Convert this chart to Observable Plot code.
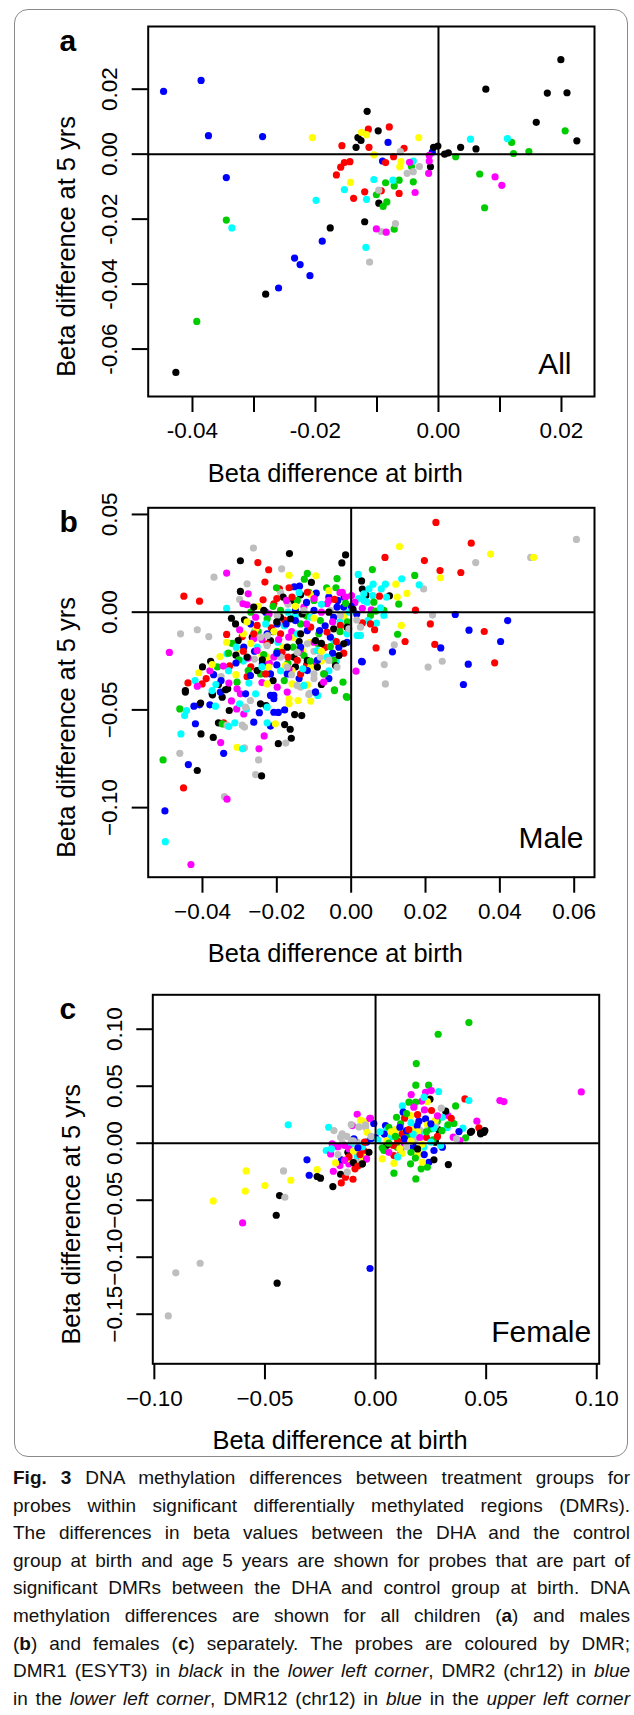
<!DOCTYPE html>
<html>
<head>
<meta charset="utf-8">
<script src="https://cdn.jsdelivr.net/npm/d3@7"></script>
<script src="https://cdn.jsdelivr.net/npm/@observablehq/plot@0.6"></script>
<style>
  html, body { margin: 0; padding: 0; background: #fff; }
  body { width: 634px; height: 1715px; position: relative; overflow: hidden; font-family: "Liberation Sans", Arial, Helvetica, sans-serif; }
  .panel { position: absolute; left: 0; }
  #border { position: absolute; left: 14px; top: 9px; width: 614px; height: 1448px; border: 1.5px solid #8a8a8a; border-radius: 14px; box-sizing: border-box; }
  #caption { position: absolute; left: 13px; top: 1464px; width: 617px; font-size: 19px; line-height: 27.6px; color: #111; }
  #caption div { text-align: justify; text-align-last: justify; white-space: nowrap; }
</style>
</head>
<body>
<div id="border"></div>
<div id="pa" class="panel"></div>
<div id="pb" class="panel"></div>
<div id="pc" class="panel"></div>
<div id="caption">
  <div><b>Fig. 3</b> DNA methylation differences between treatment groups for</div>
  <div>probes within significant differentially methylated regions (DMRs).</div>
  <div>The differences in beta values between the DHA and the control</div>
  <div>group at birth and age 5 years are shown for probes that are part of</div>
  <div>significant DMRs between the DHA and control group at birth. DNA</div>
  <div>methylation differences are shown for all children (<b>a</b>) and males</div>
  <div>(<b>b</b>) and females (<b>c</b>) separately. The probes are coloured by DMR;</div>
  <div>DMR1 (ESYT3) in <i>black</i> in the <i>lower left corner</i>, DMR2 (chr12) in <i>blue</i></div>
  <div>in the <i>lower left corner</i>, DMR12 (chr12) in <i>blue</i> in the <i>upper left corner</i></div>
</div>
<script>
// ---------------- DATA ----------------
const dmrPalette = {black:"#000000", red:"#FF0000", green:"#00CD00", blue:"#0000FF", cyan:"#00FFFF", magenta:"#FF00FF", yellow:"#FFFF00", gray:"#BEBEBE"};

const xTitle = "Beta difference at birth";
const yTitle = "Beta difference at 5 yrs";

// Panel a (All)
const aXDomain = [-0.0472, 0.02537];
const aYDomain = [-0.0746, 0.0393];
const aXTicks = [-0.04, -0.03, -0.02, -0.01, 0, 0.01, 0.02];
const aXLabels = ["-0.04", "", "-0.02", "", "0.00", "", "0.02"];
const aYTicks = [-0.06, -0.04, -0.02, 0, 0.02];
const aYLabels = ["-0.06", "-0.04", "-0.02", "0.00", "0.02"];
const aPoints = [
["blue",-0.0447,0.0193],["blue",-0.0386,0.0227],["blue",-0.0374,0.0057],["blue",-0.0286,0.0054],["blue",-0.0345,-0.0072],["blue",-0.0189,-0.0268],["blue",-0.0234,-0.0320],["blue",-0.0225,-0.0340],["blue",-0.0209,-0.0374],["blue",-0.0260,-0.0412],["blue",-0.0082,0.0036],["blue",-0.0091,-0.0021],["blue",-0.0010,0.0006],
["black",-0.0427,-0.0672],["black",-0.0281,-0.0431],["black",-0.0176,-0.0227],["black",-0.0120,-0.0208],["black",-0.0097,-0.0151],["black",-0.0116,0.0132],["black",-0.0098,0.0072],["black",-0.0131,0.0051],["black",-0.0126,0.0042],["black",-0.0134,0.0021],["black",-0.0008,0.0021],["black",-0.0001,0.0025],["black",-0.0013,-0.0039],["black",0.0010,0.0000],["black",0.0016,0.0004],["black",0.0036,0.0021],["black",0.0061,0.0016],["black",0.0077,0.0200],["black",0.0199,0.0291],["black",0.0177,0.0188],["black",0.0209,0.0189],["black",0.0159,0.0098],["black",0.0225,0.0041],
["green",-0.0393,-0.0515],["green",-0.0345,-0.0203],["green",-0.0090,-0.0161],["green",-0.0084,-0.0147],["green",-0.0101,-0.0125],["green",-0.0086,-0.0088],["green",-0.0072,-0.0098],["green",-0.0064,-0.0080],["green",-0.0041,-0.0085],["green",-0.0044,-0.0038],["green",-0.0072,-0.0231],["green",0.0028,-0.0008],["green",0.0067,-0.0061],["green",0.0075,-0.0165],["green",0.0119,0.0036],["green",0.0122,0.0002],["green",0.0147,0.0008],["green",0.0206,0.0072],
["cyan",-0.0336,-0.0227],["cyan",-0.0199,-0.0142],["cyan",-0.0153,-0.0109],["cyan",-0.0117,-0.0139],["cyan",-0.0118,-0.0287],["cyan",-0.0105,-0.0078],["cyan",-0.0074,-0.0080],["cyan",-0.0041,-0.0021],["cyan",0.0052,0.0046],["cyan",0.0112,0.0048],
["red",-0.0157,0.0026],["red",-0.0113,0.0021],["red",-0.0114,0.0077],["red",-0.0080,0.0084],["red",-0.0056,0.0018],["red",-0.0153,-0.0026],["red",-0.0144,-0.0023],["red",-0.0159,-0.0040],["red",-0.0166,-0.0064],["red",-0.0138,-0.0136],["red",-0.0120,-0.0116],["red",-0.0093,-0.0113],["red",-0.0064,-0.0121],["red",-0.0086,-0.0026],["red",-0.0073,-0.0008],
["yellow",-0.0205,0.0051],["yellow",-0.0032,0.0051],["yellow",-0.0125,0.0067],["yellow",-0.0117,0.0060],["yellow",-0.0105,-0.0002],["yellow",-0.0143,-0.0087],["yellow",-0.0061,-0.0023],["yellow",-0.0063,-0.0039],
["gray",-0.0062,0.0008],["gray",-0.0097,-0.0111],["gray",-0.0070,-0.0214],["gray",-0.0093,-0.0238],["gray",-0.0112,-0.0332],["gray",-0.0051,-0.0059],["gray",-0.0041,-0.0054],["gray",-0.0031,-0.0038],
["magenta",-0.0101,-0.0230],["magenta",-0.0085,-0.0240],["magenta",-0.0038,-0.0118],["magenta",-0.0047,-0.0025],["magenta",-0.0015,-0.0004],["magenta",-0.0015,-0.0021],["magenta",-0.0016,-0.0059],["magenta",0.0092,-0.0070],["magenta",0.0103,-0.0096]
];

// Panel b (Male)
const bXDomain = [-0.0546, 0.06546];
const bYDomain = [-0.1356, 0.0534];
const bXTicks = [-0.04, -0.02, 0, 0.02, 0.04, 0.06];
const bXLabels = ["\u22120.04", "\u22120.02", "0.00", "0.02", "0.04", "0.06"];
const bYTicks = [-0.10, -0.05, 0, 0.05];
const bYLabels = ["\u22120.10", "\u22120.05", "0.00", "0.05"];
const bPoints = [
["red",0.0228,0.0459],["gray",0.0606,0.0372],["red",0.0323,0.0353],["yellow",0.0130,0.0336],["yellow",0.0375,0.0297],["gray",0.0483,0.0280],["yellow",0.0491,0.0281],["red",0.0091,0.0280],["red",0.0197,0.0264],["gray",0.0335,0.0254],["green",0.0057,0.0218],["red",0.0239,0.0213],["red",0.0295,0.0203],["yellow",0.0240,0.0176],["green",0.0171,0.0188],["cyan",0.0136,0.0171],["cyan",0.0092,0.0143],["cyan",0.0059,0.0143],["cyan",0.0081,0.0119],["yellow",0.0120,0.0143],["yellow",0.0150,0.0096],["gray",0.0195,0.0119],["cyan",0.0183,0.0140],["black",0.0028,0.0160],["black",0.0030,0.0118],["black",0.0040,0.0087],["black",0.0103,0.0084],["cyan",0.0095,0.0077],["red",0.0076,0.0082],["yellow",0.0124,0.0077],["green",0.0128,0.0041],["cyan",0.0034,0.0060],["cyan",0.0043,0.0051],["cyan",0.0058,0.0085],["green",0.0061,0.0051],["magenta",0.0054,0.0012],["green",0.0052,-0.0017],["green",0.0066,0.0005],["green",0.0088,0.0009],["cyan",0.0079,0.0022],["cyan",0.0088,-0.0017],["cyan",0.0068,-0.0056],["cyan",0.0045,-0.0043],["red",0.0173,0.0010],["blue",0.0280,-0.0012],["gray",0.0219,-0.0015],["blue",0.0421,-0.0043],["red",0.0213,-0.0060],["yellow",0.0135,-0.0068],["red",0.0063,-0.0090],["red",0.0052,-0.0060],["red",0.0030,-0.0055],["blue",0.0317,-0.0092],["red",0.0358,-0.0099],["green",0.0125,-0.0113],["blue",0.0402,-0.0150],["red",0.0145,-0.0150],["gray",0.0116,-0.0167],["red",0.0225,-0.0165],["blue",0.0241,-0.0183],["red",0.0067,-0.0183],["blue",0.0111,-0.0203],["gray",0.0245,-0.0251],["gray",0.0089,-0.0268],["blue",0.0315,-0.0266],["red",0.0386,-0.0259],["gray",0.0207,-0.0281],["blue",0.0030,-0.0254],["gray",0.0092,-0.0367],["blue",0.0302,-0.0370],["cyan",0.0025,-0.0119],["gray",0.0025,-0.0077],
["gray",-0.0263,0.0328],["black",-0.0166,0.0300],["black",-0.0015,0.0293],["black",-0.0025,0.0252],["black",-0.0298,0.0263],["red",-0.0251,0.0254],["gray",-0.0187,0.0222],["red",-0.0222,0.0217],["gray",-0.0369,0.0179],["magenta",-0.0335,0.0200],["red",-0.0232,0.0154],["red",-0.0450,0.0082],["red",-0.0408,0.0056],["cyan",-0.0335,0.0019],["gray",-0.0280,0.0145],["black",-0.0298,0.0106],["magenta",-0.0277,0.0094],["gray",-0.0300,0.0065],["magenta",-0.0291,0.0043],
["yellow",-0.0167,0.0189],["yellow",-0.0095,0.0186],["green",-0.0118,0.0198],["green",-0.0126,0.0169],["green",-0.0038,0.0172],["black",-0.0107,0.0152],["blue",-0.0139,0.0133],["blue",-0.0153,0.0130],["red",-0.0167,0.0125],["red",-0.0193,0.0119],["gray",-0.0190,0.0102],["green",-0.0201,0.0125],
["black",-0.0183,0.0077],["black",-0.0161,0.0060],["black",-0.0136,0.0089],["black",-0.0100,0.0085],["green",-0.0114,0.0102],["green",-0.0066,0.0125],["green",-0.0041,0.0125],
["blue",-0.0094,0.0097],["blue",-0.0060,0.0077],["blue",-0.0019,0.0077],["blue",-0.0036,0.0060],["blue",-0.0020,0.0026],["magenta",-0.0024,0.0102],["magenta",-0.0015,0.0077],["magenta",0.0001,0.0085],
["cyan",0.0019,0.0193],["cyan",0.0048,0.0119],["cyan",0.0034,0.0094],
["black",-0.0322,-0.0031],["black",-0.0287,-0.0039],["black",-0.0311,-0.0060],["gray",-0.0459,-0.0111],["gray",-0.0414,-0.0090],["gray",-0.0383,-0.0125],["magenta",-0.0489,-0.0206],["red",-0.0335,-0.0114],["red",-0.0293,-0.0125],["red",-0.0327,-0.0275],["black",-0.0304,-0.0145],["black",-0.0266,-0.0128],["black",-0.0378,-0.0251],["black",-0.0357,-0.0370],["black",-0.0332,-0.0392],
["yellow",-0.0290,-0.0110],["blue",-0.0270,-0.0060],["green",-0.0250,-0.0100],["red",-0.0215,-0.0080],["cyan",-0.0180,-0.0070],["magenta",-0.0160,-0.0100],["black",-0.0140,-0.0150],["yellow",-0.0130,-0.0200],["gray",-0.0100,-0.0200],["green",-0.0090,-0.0160],["red",-0.0070,-0.0180],["blue",-0.0050,-0.0210],["cyan",-0.0030,-0.0050],["yellow",-0.0020,-0.0020],["magenta",-0.0080,0.0000],["green",-0.0120,-0.0020],["cyan",-0.0150,-0.0020],["red",-0.0180,-0.0040],["black",-0.0210,-0.0100],["magenta",-0.0240,-0.0140],["blue",-0.0260,-0.0200],["yellow",-0.0300,-0.0190],["green",-0.0320,-0.0160],["black",-0.0310,-0.0220],["cyan",-0.0290,-0.0250],["red",-0.0270,-0.0280],["gray",-0.0260,-0.0240],["yellow",-0.0240,-0.0220],["magenta",-0.0220,-0.0260],["blue",-0.0200,-0.0270],["cyan",-0.0190,-0.0300],["green",-0.0170,-0.0260],["black",-0.0150,-0.0280],["red",-0.0120,-0.0270],["magenta",-0.0100,-0.0260],["yellow",-0.0080,-0.0250],["cyan",-0.0060,-0.0300],["blue",-0.0140,-0.0340],["green",-0.0180,-0.0350],["black",-0.0210,-0.0350],["magenta",-0.0240,-0.0360],["red",-0.0280,-0.0330],["yellow",-0.0310,-0.0320],["cyan",-0.0330,-0.0300],["gray",-0.0350,-0.0330],["blue",-0.0370,-0.0320],["green",-0.0360,-0.0280],["magenta",-0.0380,-0.0300],["red",-0.0390,-0.0340],["yellow",-0.0410,-0.0310],["black",-0.0400,-0.0280],["cyan",-0.0420,-0.0350],["gray",-0.0100,-0.0340],["blue",-0.0060,-0.0340],["black",-0.0080,-0.0370],["cyan",-0.0040,-0.0250],["red",-0.0020,-0.0210],["green",-0.0010,-0.0050],["magenta",-0.0060,0.0060],["yellow",-0.0110,0.0090],["cyan",-0.0140,0.0100],["gray",-0.0170,0.0040],["red",-0.0200,0.0070],["blue",-0.0230,0.0000],["yellow",-0.0250,0.0030],["green",-0.0270,0.0000],["cyan",-0.0260,-0.0100],
["yellow",-0.0335,-0.0154],["yellow",-0.0353,-0.0227],["yellow",-0.0374,-0.0268],["yellow",-0.0256,-0.0084],["yellow",-0.0208,-0.0099],["yellow",-0.0183,-0.0179],["yellow",-0.0226,-0.0230],["yellow",-0.0156,-0.0131],["yellow",-0.0112,-0.0154],["yellow",-0.0222,-0.0281],["yellow",-0.0177,-0.0273],["yellow",-0.0159,-0.0299],["yellow",-0.0109,-0.0281],["yellow",-0.0159,-0.0367],["yellow",-0.0118,-0.0372],
["cyan",-0.0309,-0.0179],["cyan",-0.0253,-0.0179],["cyan",-0.0334,-0.0213],["cyan",-0.0197,-0.0154],["cyan",-0.0145,-0.0111],["cyan",-0.0091,-0.0196],["cyan",-0.0065,-0.0230],["cyan",-0.0047,-0.0145],["cyan",-0.0011,-0.0111],["cyan",0.0016,-0.0119],["cyan",-0.0109,-0.0026],
["magenta",-0.0262,-0.0136],["magenta",-0.0253,-0.0196],["magenta",-0.0344,-0.0276],["magenta",-0.0277,-0.0235],["magenta",-0.0208,-0.0230],["magenta",-0.0168,-0.0128],["magenta",-0.0167,-0.0290],["magenta",-0.0136,-0.0205],["magenta",-0.0100,-0.0154],["magenta",-0.0072,-0.0316],["magenta",0.0013,-0.0302],["magenta",-0.0257,-0.0026],["magenta",-0.0280,0.0038],["magenta",-0.0221,-0.0009],["magenta",-0.0174,0.0060],["magenta",-0.0127,0.0026],["magenta",-0.0065,0.0043],
["green",-0.0302,-0.0244],["green",-0.0277,-0.0299],["green",-0.0235,-0.0217],["green",-0.0199,-0.0201],["green",-0.0156,-0.0179],["green",-0.0127,-0.0222],["green",-0.0087,-0.0111],["green",-0.0056,-0.0176],["green",-0.0047,-0.0247],["green",-0.0074,-0.0316],["green",-0.0045,-0.0397],["green",-0.0011,-0.0435],["green",-0.0226,-0.0034],["green",-0.0190,0.0009],["green",-0.0136,-0.0060],["green",-0.0083,-0.0043],["green",-0.0100,0.0060],["green",-0.0145,0.0060],["green",-0.0244,-0.0316],["green",-0.0307,-0.0358],
["blue",-0.0226,-0.0111],["blue",-0.0199,-0.0060],["blue",-0.0175,-0.0060],["blue",-0.0150,-0.0043],["blue",-0.0118,-0.0094],["blue",-0.0085,-0.0094],["blue",-0.0056,-0.0128],["blue",-0.0033,-0.0179],["blue",-0.0011,-0.0154],["blue",0.0028,-0.0252],["blue",-0.0091,-0.0247],["blue",-0.0118,-0.0299],["blue",-0.0172,-0.0316],["blue",-0.0217,-0.0316],["blue",-0.0239,-0.0264],["blue",-0.0271,-0.0324],["blue",-0.0289,-0.0179],["blue",-0.0136,-0.0179],["blue",-0.0150,0.0009],["blue",-0.0100,0.0009],["blue",-0.0047,-0.0026],["blue",-0.0038,0.0026],
["black",-0.0280,-0.0230],["black",-0.0253,-0.0299],["black",-0.0239,-0.0244],["black",-0.0217,-0.0145],["black",-0.0172,-0.0179],["black",-0.0154,-0.0230],["black",-0.0118,-0.0247],["black",-0.0091,-0.0281],["black",-0.0042,-0.0273],["black",-0.0033,-0.0222],["black",-0.0020,-0.0162],["black",-0.0096,-0.0145],["black",-0.0136,-0.0111],["black",-0.0190,-0.0026],["black",-0.0163,-0.0034],["black",-0.0132,-0.0009],["black",-0.0235,0.0009],["black",-0.0262,0.0026],["black",-0.0047,-0.0085],["black",-0.0011,-0.0077],
["red",-0.0253,-0.0068],["red",-0.0226,-0.0162],["red",-0.0190,-0.0111],["red",-0.0186,-0.0205],["red",-0.0145,-0.0247],["red",-0.0136,-0.0316],["red",-0.0109,-0.0077],["red",-0.0065,-0.0102],["red",-0.0029,-0.0068],["red",-0.0237,0.0063],["red",-0.0208,0.0043],["red",-0.0159,0.0077],["red",-0.0118,0.0102],["red",-0.0262,-0.0111],["red",-0.0230,-0.0316],
["gray",-0.0226,-0.0171],["gray",-0.0190,-0.0230],["gray",-0.0145,-0.0205],["gray",-0.0118,-0.0162],["gray",-0.0083,-0.0230],["gray",-0.0060,-0.0247],["gray",-0.0038,-0.0281],["gray",-0.0136,-0.0384],["gray",-0.0100,-0.0316],["gray",-0.0172,-0.0281],["gray",-0.0244,-0.0128],["gray",-0.0199,-0.0017],["gray",-0.0127,0.0009],["gray",-0.0056,0.0009],["gray",0.0007,0.0043],["gray",-0.0029,-0.0017],["gray",-0.0006,-0.0085],
["green",-0.0461,-0.0495],["cyan",-0.0443,-0.0503],["cyan",-0.0448,-0.0529],["blue",-0.0419,-0.0571],["cyan",-0.0458,-0.0623],["black",-0.0404,-0.0623],["gray",-0.0461,-0.0722],["green",-0.0506,-0.0756],["blue",-0.0438,-0.0780],["black",-0.0414,-0.0810],["red",-0.0451,-0.0899],["blue",-0.0501,-0.1017],["cyan",-0.0500,-0.1174],["magenta",-0.0431,-0.1291],["gray",-0.0341,-0.0943],["magenta",-0.0334,-0.0957],["gray",-0.0257,-0.0831],["black",-0.0241,-0.0838],["gray",-0.0249,-0.0756],["magenta",-0.0248,-0.0699],["yellow",-0.0307,-0.0691],["gray",-0.0287,-0.0694],["cyan",-0.0292,-0.0699],["blue",-0.0343,-0.0722],["magenta",-0.0351,-0.0667],["black",-0.0371,-0.0641],
["blue",-0.0423,-0.0481],["blue",-0.0408,-0.0474],["blue",-0.0380,-0.0474],["black",-0.0446,-0.0409],["black",-0.0405,-0.0465],["cyan",-0.0365,-0.0481],["black",-0.0373,-0.0423],["black",-0.0357,-0.0566],["black",-0.0344,-0.0571],["black",-0.0328,-0.0503],["red",-0.0343,-0.0566],["green",-0.0347,-0.0571],["gray",-0.0334,-0.0578],["gray",-0.0293,-0.0578],["gray",-0.0287,-0.0588],["cyan",-0.0329,-0.0585],["cyan",-0.0313,-0.0566],["magenta",-0.0322,-0.0454],["magenta",-0.0308,-0.0495],["magenta",-0.0289,-0.0521],["cyan",-0.0300,-0.0469],["cyan",-0.0282,-0.0495],["gray",-0.0284,-0.0486],["gray",-0.0271,-0.0452],
["blue",-0.0262,-0.0563],["blue",-0.0247,-0.0514],["blue",-0.0217,-0.0583],["blue",-0.0208,-0.0512],["blue",-0.0196,-0.0513],["blue",-0.0179,-0.0500],["black",-0.0244,-0.0469],["black",-0.0229,-0.0478],["magenta",-0.0234,-0.0633],["cyan",-0.0226,-0.0566],["cyan",-0.0226,-0.0486],["black",-0.0196,-0.0673],["black",-0.0179,-0.0575],["black",-0.0164,-0.0599],["black",-0.0161,-0.0645],["black",-0.0152,-0.0524],["black",-0.0133,-0.0529],["gray",-0.0176,-0.0670],["yellow",-0.0204,-0.0571],["yellow",-0.0167,-0.0443],["yellow",-0.0167,-0.0469],["yellow",-0.0143,-0.0452],["yellow",-0.0109,-0.0455],["magenta",-0.0172,-0.0409],["gray",-0.0114,-0.0421],["cyan",-0.0090,-0.0426],["green",-0.0045,-0.0401],["green",-0.0013,-0.0432],["blue",-0.0096,-0.0409],["blue",-0.0217,-0.0426],["blue",-0.0208,-0.0443],["cyan",-0.0257,-0.0418],["magenta",-0.0298,-0.0418],["black",-0.0374,-0.0418],["black",-0.0347,-0.0435],["blue",-0.0352,-0.0409],
["red",-0.0439,-0.0362],["red",-0.0401,-0.0367],["black",-0.0446,-0.0401],["magenta",-0.0414,-0.0379],["blue",-0.0350,-0.0350],["black",-0.0338,-0.0397],["cyan",-0.0364,-0.0370],["magenta",-0.0307,-0.0392],["magenta",-0.0329,-0.0363],["cyan",-0.0275,-0.0363],["blue",-0.0284,-0.0418],["yellow",-0.0226,-0.0367],["magenta",-0.0199,-0.0384],["gray",-0.0145,-0.0375],["gray",-0.0111,-0.0415],["cyan",-0.0127,-0.0375],["blue",-0.0096,-0.0409],["blue",-0.0208,-0.0426],["magenta",-0.0074,-0.0358],["green",-0.0022,-0.0358],["cyan",-0.0374,-0.0401],
["cyan",0.0020,0.0070],["magenta",0.0010,0.0050],["blue",0.0000,0.0030],["cyan",-0.0005,0.0000],["magenta",0.0030,0.0020],["blue",0.0015,-0.0010],["black",0.0005,0.0015],["green",-0.0015,0.0045],["gray",0.0015,-0.0040],["magenta",-0.0030,0.0100],["yellow",-0.0060,0.0110],["red",-0.0045,0.0065],["cyan",-0.0080,0.0040],["magenta",-0.0100,0.0070],["blue",-0.0120,0.0050],["yellow",-0.0150,0.0030],["cyan",-0.0170,0.0000],["green",-0.0210,0.0030],["black",-0.0200,-0.0050],["cyan",-0.0230,-0.0060],["yellow",-0.0280,-0.0050],["magenta",-0.0300,-0.0090],
["red",-0.0290,-0.0200],["yellow",-0.0270,-0.0160],["blue",-0.0310,-0.0260],["green",-0.0330,-0.0210],["cyan",-0.0240,-0.0280],["magenta",-0.0195,-0.0140],["gray",-0.0160,-0.0320],["yellow",-0.0080,-0.0200],["blue",-0.0070,-0.0070],["magenta",-0.0050,-0.0050],["black",-0.0080,-0.0160],["green",-0.0110,-0.0250],["cyan",-0.0130,-0.0290],["red",-0.0170,-0.0230],["blue",-0.0200,-0.0210],["gray",-0.0225,-0.0120],["magenta",-0.0120,-0.0060],["yellow",-0.0100,-0.0030],["black",-0.0060,0.0000],["green",-0.0030,-0.0100],["red",-0.0040,-0.0150]
];

// Panel c (Female)
const cXDomain = [-0.1007, 0.1011];
const cYDomain = [-0.1935, 0.1302];
const cXTicks = [-0.10, -0.05, 0, 0.05, 0.10];
const cXLabels = ["\u22120.10", "\u22120.05", "0.00", "0.05", "0.10"];
const cYTicks = [-0.15, -0.10, -0.05, 0, 0.05, 0.10];
const cYLabels = ["\u22120.15", "\u22120.10", "\u22120.05", "0.00", "0.05", "0.10"];
const cPoints = [
["green",0.0422,0.1058],["green",0.0283,0.0956],["green",0.0184,0.0699],["green",0.0182,0.0509],["green",0.0240,0.0509],["magenta",0.0161,0.0427],["magenta",0.0226,0.0447],["magenta",0.0252,0.0462],["cyan",0.0285,0.0453],["magenta",0.0930,0.0450],["magenta",0.0562,0.0374],["magenta",0.0580,0.0365],["red",0.0404,0.0389],["cyan",0.0422,0.0374],["green",0.0362,0.0327],["magenta",0.0458,0.0193],["red",0.0467,0.0135],["black",0.0494,0.0111],["black",0.0475,0.0091],["black",0.0434,0.0105],["cyan",0.0395,0.0132],["blue",0.0377,0.0102],["black",0.0286,0.0117],["green",0.0354,0.0173],["magenta",0.0327,0.0243],["red",0.0342,0.0219],["cyan",0.0324,0.0137],["black",0.0317,0.0281],["black",0.0246,0.0386],["gray",0.0297,0.0307],["cyan",0.0301,0.0228],["green",0.0279,0.0190],["red",0.0253,0.0287],["yellow",0.0234,0.0365],["magenta",0.0208,0.0368],["magenta",0.0221,0.0292],["cyan",0.0219,0.0404],["green",0.0181,0.0360],["green",0.0151,0.0360],["green",0.0095,0.0228],["cyan",0.0121,0.0327],["magenta",0.0173,0.0316],["blue",0.0125,0.0272],["blue",0.0226,0.0213],["blue",0.0196,0.0193],["yellow",0.0158,0.0243],["yellow",0.0234,0.0161],["yellow",0.0121,0.0096],["yellow",0.0173,0.0132],["red",0.0131,0.0219],["gray",0.0271,0.0155],["gray",0.0203,0.0111],["gray",0.0234,0.0114],["green",0.0113,0.0170],["green",0.0252,0.0126],["green",0.0327,0.0161],["blue",0.0045,0.0155],["blue",0.0188,0.0155],["cyan",0.0053,0.0120],["cyan",0.0264,0.0132],["yellow",-0.0045,0.0190],["magenta",-0.0023,0.0219],["blue",-0.0008,0.0173],["gray",-0.0045,0.0140],
["cyan",-0.0395,0.0161],["cyan",-0.0212,0.0140],["magenta",-0.0083,0.0254],["magenta",-0.0026,0.0219],["magenta",-0.0105,0.0155],["yellow",-0.0068,0.0202],["gray",-0.0110,0.0164],["gray",-0.0075,0.0143],["gray",-0.0045,0.0161],["gray",-0.0151,0.0082],["yellow",-0.0038,0.0096],
["yellow",-0.0585,-0.0243],["gray",-0.0416,-0.0243],["yellow",-0.0383,-0.0325],["yellow",-0.0500,-0.0371],["yellow",-0.0589,-0.0421],["yellow",-0.0734,-0.0506],["black",-0.0434,-0.0459],["gray",-0.0410,-0.0474],["black",-0.0449,-0.0632],["magenta",-0.0601,-0.0699],["gray",-0.0793,-0.1053],["gray",-0.0903,-0.1137],["gray",-0.0937,-0.1515],["black",-0.0445,-0.1228],["blue",-0.0025,-0.1099],
["blue",-0.0310,-0.0146],["blue",-0.0300,-0.0281],["yellow",-0.0264,-0.0231],["black",-0.0264,-0.0292],["black",-0.0249,-0.0307],["black",-0.0193,-0.0380],["cyan",-0.0223,-0.0064],["magenta",-0.0191,-0.0246],["magenta",-0.0203,-0.0094],["magenta",-0.0161,-0.0196],["magenta",-0.0121,-0.0181],["magenta",-0.0041,-0.0137],["black",-0.0158,-0.0272],["black",-0.0125,-0.0079],["black",-0.0060,-0.0181],["red",-0.0155,-0.0348],["red",-0.0102,-0.0316],["red",-0.0136,-0.0298],["red",-0.0093,-0.0225],["gray",-0.0128,-0.0254],["gray",-0.0083,-0.0137],["gray",-0.0188,0.0111],["gray",-0.0158,0.0053],["gray",-0.0083,0.0009],["blue",-0.0154,-0.0146],["blue",-0.0098,0.0038],["blue",-0.0075,-0.0108],["yellow",-0.0181,-0.0173],["yellow",-0.0128,-0.0137],["cyan",-0.0083,-0.0108],["cyan",-0.0110,-0.0006],["magenta",-0.0196,-0.0006],["red",-0.0053,-0.0064],
["gray",-0.0150,0.0000],["magenta",-0.0120,-0.0050],["yellow",-0.0100,-0.0070],["cyan",-0.0060,-0.0030],["blue",-0.0040,0.0010],["red",-0.0120,-0.0120],["gray",-0.0170,-0.0100],["magenta",-0.0140,-0.0150],["black",-0.0100,-0.0170],["red",-0.0080,-0.0200],["yellow",-0.0060,-0.0120],
["green",0.0083,-0.0263],["green",0.0182,-0.0313],["black",0.0329,-0.0187],["blue",0.0241,-0.0167],["black",0.0264,-0.0146],["green",0.0158,-0.0181],["green",0.0206,-0.0225],["green",0.0234,-0.0211],["yellow",0.0188,-0.0108],["yellow",0.0083,-0.0175],["yellow",0.0030,-0.0137],["magenta",-0.0041,-0.0137],["black",-0.0060,-0.0181],["blue",0.0264,-0.0064],["blue",0.0302,-0.0035],["blue",0.0158,0.0053],["black",0.0050,-0.0020],["black",0.0271,0.0009],["green",0.0407,0.0047],["magenta",0.0351,0.0053],["magenta",0.0381,0.0023],["gray",0.0366,0.0038],["black",0.0429,0.0096],["black",0.0475,0.0082],["black",0.0490,0.0096],["red",0.0083,-0.0108],["red",0.0113,-0.0064],["cyan",0.0218,-0.0035],["cyan",0.0294,-0.0020],["green",0.0038,-0.0064],["green",0.0098,-0.0035],["yellow",0.0196,-0.0064],["yellow",0.0211,-0.0167],
["blue",0.0000,0.0050],["blue",0.0040,0.0080],["cyan",0.0070,0.0060],["yellow",0.0100,0.0040],["red",0.0120,0.0080],["green",0.0150,0.0060],["gray",0.0180,0.0030],["cyan",0.0200,0.0080],["red",0.0230,0.0050],["green",0.0260,0.0030],["yellow",0.0050,0.0020],["red",0.0080,-0.0020],["magenta",0.0130,0.0000],["blue",0.0170,-0.0030],["yellow",0.0210,-0.0010],["cyan",0.0250,0.0010],["green",0.0030,-0.0040],["yellow",0.0110,-0.0050],["green",0.0160,-0.0080],["cyan",0.0020,0.0100],["blue",-0.0020,0.0040],["red",-0.0050,0.0010],["blue",-0.0080,-0.0040],["gray",-0.0110,0.0020],["magenta",-0.0140,-0.0020],["black",-0.0030,-0.0080],["red",-0.0070,-0.0100],["yellow",0.0090,0.0120],["blue",0.0140,0.0110],["yellow",0.0190,0.0100],["green",0.0060,0.0140],["gray",-0.0130,0.0060],["gray",-0.0100,0.0020],["magenta",-0.0170,-0.0030],["cyan",-0.0200,-0.0050],
["gray",-0.0020,0.0060],["cyan",0.0010,0.0030],["green",0.0060,0.0000],["red",0.0100,0.0020],["blue",0.0130,0.0040],["yellow",0.0160,0.0020],["magenta",0.0200,0.0050],["green",0.0230,0.0100],["cyan",0.0170,0.0080],["red",0.0150,0.0120],["blue",0.0110,0.0140],["yellow",0.0070,0.0100],["green",0.0090,0.0060],["gray",0.0140,-0.0030],["black",0.0190,-0.0050],["yellow",0.0120,-0.0090],["green",0.0180,-0.0130],["blue",0.0220,-0.0100],["cyan",0.0100,-0.0120],["magenta",0.0060,-0.0080],["red",0.0280,0.0060],["green",0.0300,0.0110],["yellow",0.0270,0.0200],["blue",0.0250,0.0170],["cyan",0.0160,0.0180],["green",0.0140,0.0260],["red",0.0190,0.0250],["magenta",0.0280,0.0240]
];

// ---------------- DRAWING ----------------
const FONT = "'Liberation Sans', Arial, Helvetica, sans-serif";

function makePanel(cfg) {
  const xl = new Map(cfg.xTicks.map((t, i) => [t, cfg.xLabels[i]]));
  const yl = new Map(cfg.yTicks.map((t, i) => [t, cfg.yLabels[i]]));
  return Plot.plot({
    width: 634,
    height: cfg.height,
    marginLeft: cfg.boxLeft,
    marginRight: 634 - cfg.boxRight,
    marginTop: cfg.boxTop - cfg.top,
    marginBottom: cfg.top + cfg.height - cfg.boxBottom,
    x: {domain: cfg.xDomain},
    y: {domain: cfg.yDomain},
    color: {type: "identity"},
    style: {fontFamily: FONT, fontSize: "22.5px", color: "black", background: "transparent", overflow: "visible"},
    marks: [
      Plot.dot(cfg.points, {x: d => d[1], y: d => d[2], fill: d => dmrPalette[d[0]], r: 3.6}),
      Plot.ruleX([0], {strokeWidth: 2}),
      Plot.ruleY([0], {strokeWidth: 2}),
      Plot.frame({strokeWidth: 2}),
      Plot.axisX({ticks: cfg.xTicks, tickFormat: d => xl.get(d) ?? "", tickSize: 16, tickPadding: 10, strokeWidth: 2, label: null}),
      Plot.axisY({ticks: cfg.yTicks, tickFormat: d => yl.get(d) ?? "", tickSize: 16, tickPadding: 15, tickRotate: -90, textAnchor: "middle", lineAnchor: "bottom", strokeWidth: 2, label: null}),
      Plot.text([xTitle], {text: d => d, frameAnchor: "bottom", dx: -36, dy: 85, textAnchor: "middle", lineAnchor: "bottom", fontSize: 25.4}),
      Plot.text([yTitle], {text: d => d, frameAnchor: "left", dx: -73, dy: 35, rotate: -90, textAnchor: "middle", lineAnchor: "bottom", fontSize: 25.4}),
      Plot.text([cfg.letter], {text: d => d, frameAnchor: "top-left", dx: 59 - cfg.boxLeft, dy: 24, textAnchor: "start", lineAnchor: "bottom", fontWeight: "bold", fontSize: 30}),
      Plot.text([cfg.corner], {text: d => d, frameAnchor: "bottom-right", dx: cfg.cornerDx, dy: cfg.cornerDy, textAnchor: "end", lineAnchor: "bottom", fontSize: 30})
    ]
  });
}

const panels = [
  {id: "pa", top: 0, height: 496, boxTop: 26, boxBottom: 396, boxLeft: 147.7, boxRight: 594,
   xDomain: aXDomain, yDomain: aYDomain, xTicks: aXTicks, xLabels: aXLabels, yTicks: aYTicks, yLabels: aYLabels,
   points: aPoints, letter: "a", corner: "All", cornerDx: -23, cornerDy: -23},
  {id: "pb", top: 496, height: 474, boxTop: 507.3, boxBottom: 876.7, boxLeft: 147.7, boxRight: 594,
   xDomain: bXDomain, yDomain: bYDomain, xTicks: bXTicks, xLabels: bXLabels, yTicks: bYTicks, yLabels: bYLabels,
   points: bPoints, letter: "b", corner: "Male", cornerDx: -11, cornerDy: -29},
  {id: "pc", top: 970, height: 490, boxTop: 994.3, boxBottom: 1363.3, boxLeft: 152.3, boxRight: 598.7,
   xDomain: cXDomain, yDomain: cYDomain, xTicks: cXTicks, xLabels: cXLabels, yTicks: cYTicks, yLabels: cYLabels,
   points: cPoints, letter: "c", corner: "Female", cornerDx: -8, cornerDy: -22}
];

for (const p of panels) {
  const el = document.getElementById(p.id);
  el.style.top = p.top + "px";
  el.appendChild(makePanel(p));
}
</script>
</body>
</html>
